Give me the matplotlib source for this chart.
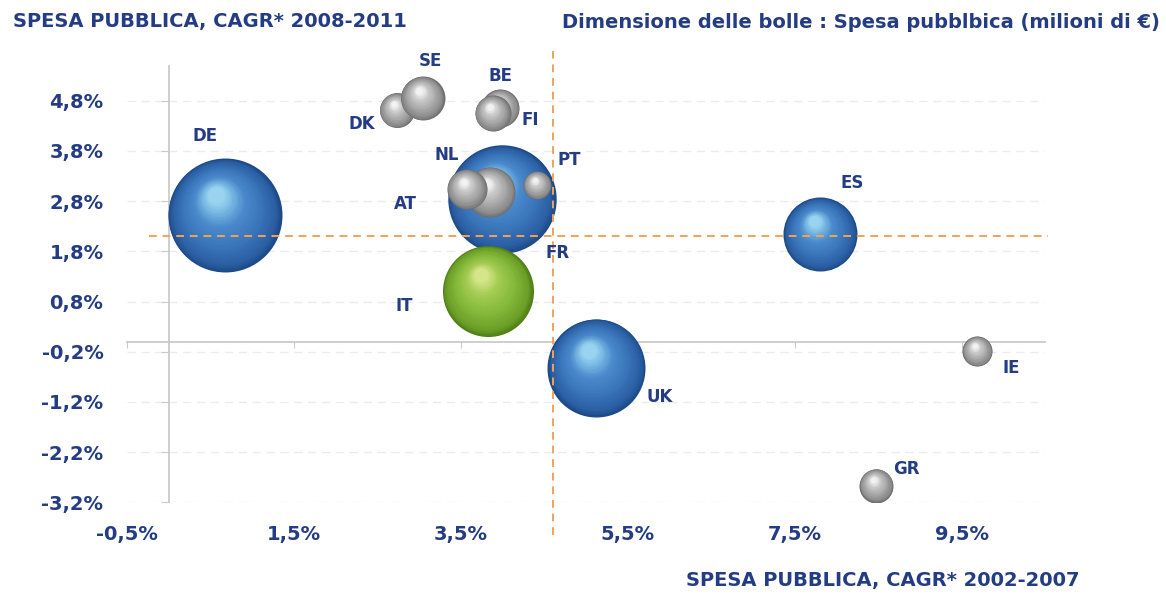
import numpy as np
import matplotlib
matplotlib.use("Agg")
import matplotlib.pyplot as plt
from matplotlib import transforms
from matplotlib.colors import LinearSegmentedColormap

# dati (CAGR in %, spesa in milioni di euro)
paesi = ["DE", "FR", "UK", "ES", "IT", "NL", "AT", "PT", "DK", "SE", "BE", "FI", "IE", "GR"]
cagr_0207 = [0.67, 3.99, 5.12, 7.80, 3.82, 3.85, 3.57, 4.41, 2.73, 3.04, 3.97, 3.88, 9.68, 8.47]
cagr_0811 = [2.52, 2.84, -0.52, 2.14, 1.01, 2.98, 3.04, 3.12, 4.61, 4.85, 4.65, 4.55, -0.19, -2.87]
spesa = [1150000, 1040000, 850000, 485000, 733000, 221000, 142000, 69000,
         108000, 171000, 128000, 115000, 80000, 102000]
colore = ["blu", "blu", "blu", "blu", "verde", "grigio", "grigio", "grigio",
          "grigio", "grigio", "grigio", "grigio", "grigio", "grigio"]

# medie (linee arancioni)
media_0207 = 4.6
media_0811 = 2.1

x_ticks = [-0.5, 1.5, 3.5, 5.5, 7.5, 9.5]
x_labels = ["-0,5%", "1,5%", "3,5%", "5,5%", "7,5%", "9,5%"]
y_ticks = [-3.2, -2.2, -1.2, -0.2, 0.8, 1.8, 2.8, 3.8, 4.8]
y_labels = ["-3,2%", "-2,2%", "-1,2%", "-0,2%", "0,8%", "1,8%", "2,8%", "3,8%", "4,8%"]

# posizione etichette rispetto al centro della bolla (punti)
offset_etichette = {
    "DE": (-14, 57), "FR": (40, -39), "UK": (46, -21), "ES": (23, 37),
    "IT": (-60, -11), "NL": (-31, 27), "AT": (-44, -11), "PT": (23, 18),
    "DK": (-25, -10), "SE": (6, 27), "BE": (0, 23), "FI": (27, -5),
    "IE": (25, -12), "GR": (22, 12),
}

blu_scuro = "#243c84"
plt.rcParams["font.family"] = "DejaVu Sans"
plt.rcParams["font.weight"] = "bold"

mappe = {
    "blu": LinearSegmentedColormap.from_list(
        "blu", [(0, "#1d4a88"), (0.1, "#2b5fa3"), (0.35, "#3a74ba"), (0.65, "#4a8acb"),
                (0.9, "#80bfe6"), (1, "#9ad3ef")]),
    "grigio": LinearSegmentedColormap.from_list(
        "grigio", [(0, "#6e6e6e"), (0.1, "#888888"), (0.4, "#a8a8a8"), (0.75, "#cacaca"),
                   (1, "#f2f2f2")]),
    "verde": LinearSegmentedColormap.from_list(
        "verde", [(0, "#4f7e16"), (0.1, "#6a9e26"), (0.4, "#83b83a"), (0.75, "#a3cc52"),
                  (1, "#d6e48a")]),
}

fig = plt.figure(figsize=(11.66, 5.94), dpi=100)
ax = fig.add_axes([0.1089, 0.1544, 0.7877, 0.7352])
ax.set_xlim(-0.5, 10.5)
ax.set_ylim(-3.2, 5.5)

# assi che si incrociano nello zero
for lato in ["top", "right"]:
    ax.spines[lato].set_visible(False)
ax.spines["left"].set_position(("data", 0))
ax.spines["bottom"].set_position(("data", 0))
for lato in ["left", "bottom"]:
    ax.spines[lato].set_color("#cacaca")
    ax.spines[lato].set_linewidth(1.3)

ax.set_xticks(x_ticks)
ax.set_xticklabels(x_labels)
ax.set_yticks(y_ticks)
ax.set_yticklabels(y_labels)
ax.tick_params(axis="y", direction="out", length=6, color="#cacaca", pad=41,
               labelsize=14, labelcolor=blu_scuro)
ax.tick_params(axis="x", direction="out", length=4, color="#cacaca", pad=128,
               labelsize=14, labelcolor=blu_scuro)
ax.yaxis.grid(True, color="#ececec", linestyle=(0, (6, 4)), linewidth=1)
ax.set_axisbelow(True)

# bolle "3D": cerchi sovrapposti sempre piu piccoli verso il riflesso
scala = 2.0736 / 354  # punti^2 per milione di euro
n_strati = 40
for k in range(len(paesi)):
    s = spesa[k] * scala
    r = np.sqrt(s) / 2
    cmap = mappe[colore[k]]
    for i in range(n_strati):
        t = i / (n_strati - 1)
        f = 1 - 0.85 * t
        tr = transforms.offset_copy(ax.transData, fig=fig, x=-0.15 * r * t,
                                    y=0.35 * r * t, units="points")
        ax.scatter([cagr_0207[k]], [cagr_0811[k]], s=s * f ** 2, color=cmap(t),
                   linewidths=0, transform=tr, zorder=3 + k + i * 0.01)

for k, p in enumerate(paesi):
    ax.annotate(p, (cagr_0207[k], cagr_0811[k]), xytext=offset_etichette[p],
                textcoords="offset points", ha="center", va="center",
                fontsize=12, fontweight="bold", color=blu_scuro, zorder=40)

# linee delle medie
arancio = "#f0a35a"
ax.plot([media_0207, media_0207], [-3.85, 5.8], color=arancio, linestyle=(0, (4, 3)),
        linewidth=1.4, zorder=30, clip_on=False)
ax.plot([-0.24, 10.53], [media_0811, media_0811], color=arancio, linestyle=(0, (4, 3)),
        linewidth=1.4, zorder=30, clip_on=False)

fig.text(12.7 / 1166, 1 - 22 / 594, "SPESA PUBBLICA, CAGR* 2008-2011", ha="left", va="center",
         fontsize=14, fontweight="bold", color=blu_scuro)
fig.text(1160 / 1166, 1 - 22 / 594, "Dimensione delle bolle : Spesa pubblbica (milioni di €)",
         ha="right", va="center", fontsize=14, fontweight="bold", color=blu_scuro)
fig.text(1080 / 1166, 1 - 580.5 / 594, "SPESA PUBBLICA, CAGR* 2002-2007", ha="right", va="center",
         fontsize=14, fontweight="bold", color=blu_scuro)

fig.savefig("out.png", dpi=100, facecolor="white")
